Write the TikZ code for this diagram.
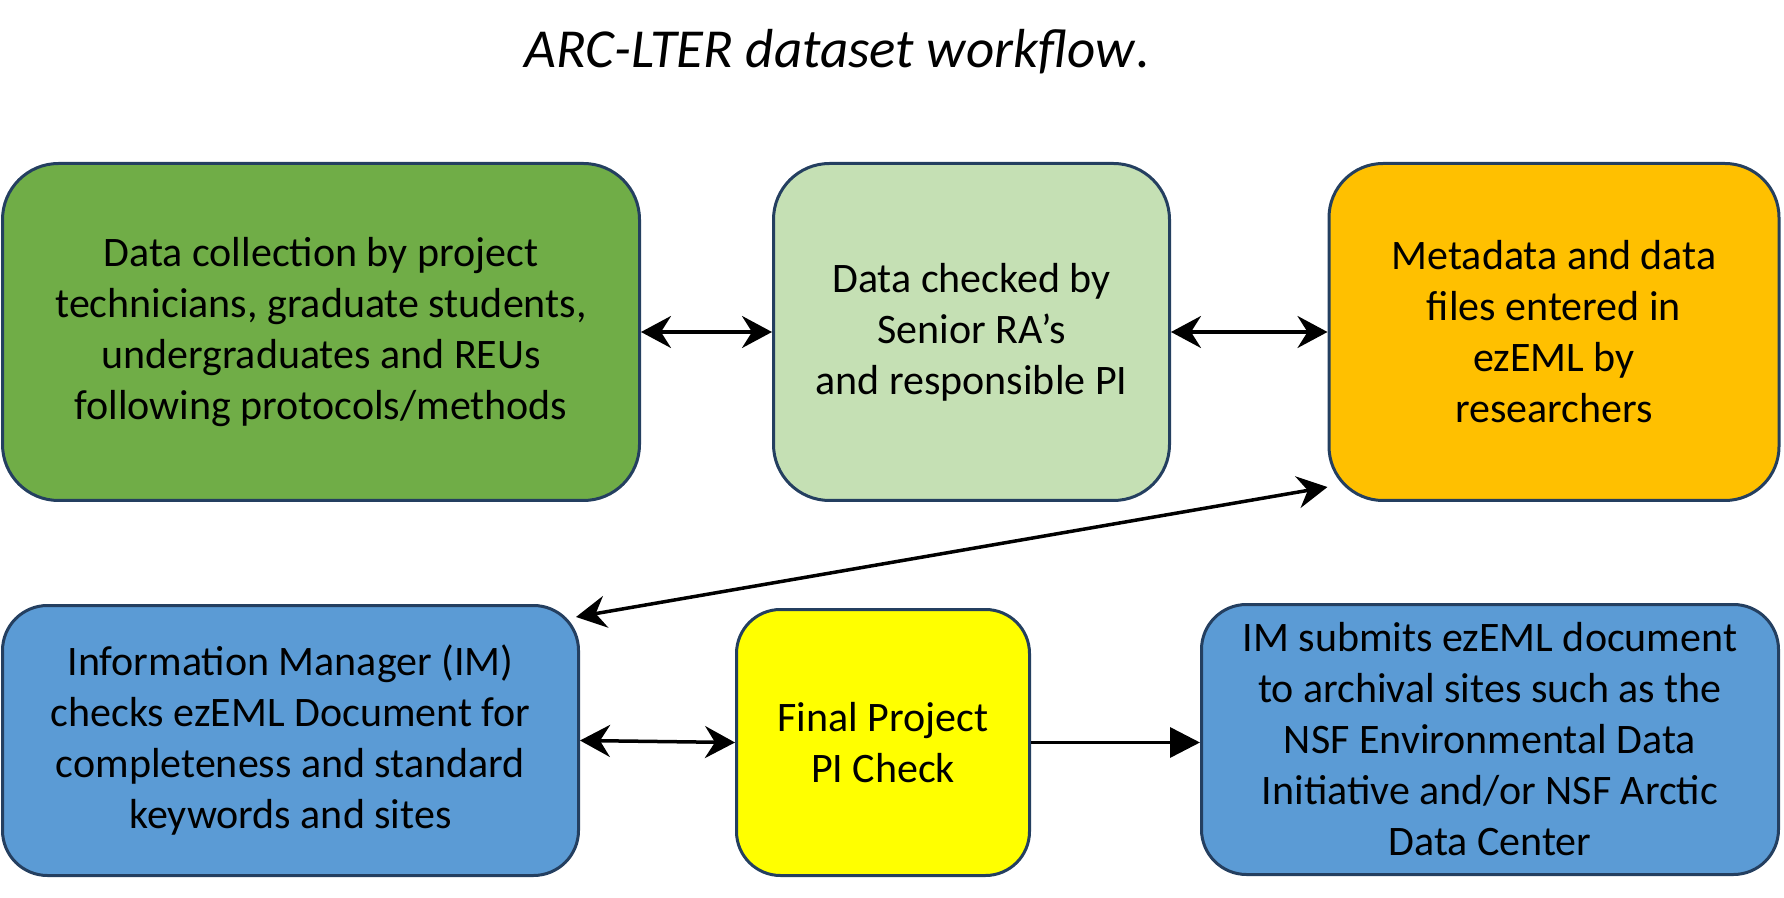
\documentclass[tikz,border=0pt]{standalone}
\usepackage{fontspec}
\setmainfont{Carlito}
\usetikzlibrary{calc}
\usetikzlibrary{arrows.meta}
\usepackage{xcolor}
\definecolor{edgeblue}{HTML}{243F60}
\definecolor{fieldgreen}{HTML}{70AD47}
\definecolor{checkgreen}{HTML}{C5E0B4}
\definecolor{metaorange}{HTML}{FFC000}
\definecolor{imblue}{HTML}{5B9BD5}
\definecolor{piyellow}{HTML}{FFFF00}

\begin{document}
\begin{tikzpicture} [x=0.5pt,y=-0.5pt,
 box/.style={draw=edgeblue, line width=1.5pt, align=center, inner sep=0pt,
  font=\fontsize{21}{25.5}\selectfont},
 link/.style={black, line width=1.75pt,
  {Stealth[length=15pt,width=16pt,inset=5pt]}-{Stealth[length=15pt,width=16pt,inset=5pt]}},
 push/.style={black, line width=1.75pt, -{Triangle[length=15pt,width=15pt]}}]
\useasboundingbox (0,0) rectangle (1784,898);
\node[anchor=base] (title) at (837,68) {\fontsize{27.5}{33}\selectfont\itshape ARC-LTER dataset workflow\/\upshape.};
% top row
\node[box, fill=fieldgreen, rounded corners=28pt, minimum width=318.5pt, minimum height=168.5pt] (collect) at (321,332)
 {Data collection by project\\technicians, graduate students,\\undergraduates and REUs\\following protocols/methods};
\node[box, fill=checkgreen, rounded corners=28pt, minimum width=198pt, minimum height=168.5pt] (checked) at (971.5,332)
 {Data checked by\\Senior RA’s\\and responsible PI};
\node[box, fill=metaorange, rounded corners=27pt, minimum width=225pt, minimum height=168.5pt] (meta) at (1554,332)
 {Metadata and data\\files entered in\\ezEML by\\researchers};
% bottom row
\node[box, fill=imblue, rounded corners=22.5pt, minimum width=288pt, minimum height=135pt] (im) at (290.5,740.5)
 {Information Manager (IM)\\checks ezEML Document for\\completeness and standard\\keywords and sites};
\node[box, fill=piyellow, rounded corners=22pt, minimum width=146.5pt, minimum height=133pt] (pi) at (883,742.5)
 {Final Project\\PI Check};
\node[box, fill=imblue, rounded corners=22.5pt, minimum width=288.5pt, minimum height=135pt] (submit) at (1490,739.5)
 {IM submits ezEML document\\to archival sites such as the\\NSF Environmental Data\\Initiative and/or NSF Arctic\\Data Center};
% connectors
\draw[link] (collect) -- (checked);
\draw[link] (checked) -- (meta);
\draw[link] ($(im.north east)+(-4,13)$) -- ($(meta.south west)+(0,-15)$);
\draw[link] (im.east) -- (pi.west);
\draw[push] (pi.east) -- (pi.east -| submit.west);
\end{tikzpicture}
\end{document}
